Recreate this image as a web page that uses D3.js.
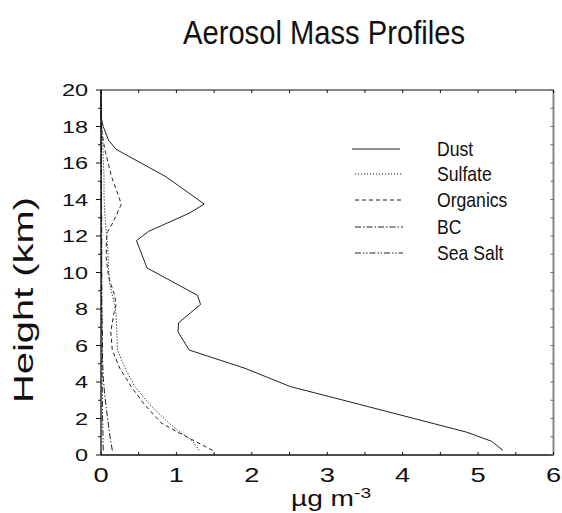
<!DOCTYPE html>
<html><head><meta charset="utf-8">
<script src="https://cdn.jsdelivr.net/npm/d3@7"></script>
<style>body{margin:0;background:#fff}svg{display:block}</style>
</head><body>
<svg id="c" width="562" height="513"></svg>
<script>
const title = "Aerosol Mass Profiles";
const xTicks = [0,1,2,3,4,5,6];
const yTicks = [0,2,4,6,8,10,12,14,16,18,20];
const seriesNames = ["Dust","Sulfate","Organics","BC","Sea Salt"];

const dustH = [0.25,0.75,1.25,2.75,3.75,4.75,5.75,6.75,7.25,8.25,8.75,10.25,11.75,12.25,13.25,13.75,15.25,16.75,17.25,18.0,18.5,20];
const dustV = [5.33,5.18,4.85,3.45,2.51,1.91,1.17,1.02,1.03,1.32,1.28,0.61,0.47,0.63,1.17,1.37,0.86,0.20,0.10,0.03,0.0,0.0];
const sulfateH = [0.25,0.75,1.25,1.75,2.75,3.75,4.75,5.75,6.75,7.75,8.25,9.25,10.25,11.25,12.25,13.25,14.25,15.25,16.25,17.25,18.25,19.5];
const sulfateV = [1.30,1.22,1.05,0.90,0.65,0.45,0.32,0.22,0.21,0.20,0.18,0.12,0.10,0.09,0.07,0.05,0.04,0.04,0.03,0.02,0.01,0.0];
const organicsH = [0.25,0.75,1.25,1.75,2.75,3.75,4.75,5.75,6.75,7.75,8.25,8.75,9.75,10.75,11.75,12.25,12.75,13.75,15.25,16.75,17.75,18.5];
const organicsV = [1.48,1.25,1.02,0.80,0.58,0.40,0.25,0.15,0.13,0.17,0.20,0.18,0.10,0.07,0.07,0.09,0.16,0.27,0.14,0.05,0.01,0.0];
const bcH = [0.25,1.25,2.25,3.25,4.25,5.25,6.25,8.25,12.0,16.0,20.0];
const bcV = [0.15,0.11,0.08,0.05,0.03,0.02,0.02,0.01,0.01,0.005,0.0];
const seaSaltH = [0.25,2.25,4.25,8.25,12.0,16.0,20.0];
const seaSaltV = [0.03,0.02,0.015,0.01,0.005,0.002,0.0];

const dashes = ["none","1.2,1.8","4,3","6,2,1.5,2","6,2,1.5,1.5,1.5,2"];
const seriesH = [dustH,sulfateH,organicsH,bcH,seaSaltH];
const seriesV = [dustV,sulfateV,organicsV,bcV,seaSaltV];

const FONT = "'Liberation Sans',Arial,Helvetica,sans-serif";
const svg = d3.select("#c");
const L=101, R=553.5, T=90, B=455;
const x = d3.scaleLinear().domain([0,6]).range([L,R]);
const y = d3.scaleLinear().domain([0,20]).range([B,T]);

// title
svg.append("text").attr("x",324).attr("y",43.5).attr("text-anchor","middle")
  .attr("font-family",FONT)
  .attr("font-size",34).attr("textLength",282).attr("lengthAdjust","spacingAndGlyphs")
  .attr("fill","#111").text(title);

// data lines
const line = d3.line().x(d=>x(d[1])).y(d=>y(d[0]));
seriesNames.forEach((n,i)=>{
  const pts = seriesH[i].map((h,j)=>[h,seriesV[i][j]]);
  svg.append("path").attr("d",line(pts)).attr("fill","none")
    .attr("stroke","#222").attr("stroke-width",1)
    .attr("stroke-dasharray",dashes[i]==="none"?null:dashes[i]);
});

// axes
const g = svg.append("g");
g.append("line").attr("x1",L).attr("x2",L).attr("y1",T).attr("y2",B).attr("stroke","#111").attr("stroke-width",1.3);
g.append("line").attr("x1",L).attr("x2",R).attr("y1",B).attr("y2",B).attr("stroke","#111").attr("stroke-width",1.3);
g.append("line").attr("x1",L).attr("x2",R).attr("y1",T).attr("y2",T).attr("stroke","#111").attr("stroke-width",1.1);
g.append("line").attr("x1",R).attr("x2",R).attr("y1",T).attr("y2",B).attr("stroke","#888").attr("stroke-width",2);

// left ticks (outward), every 1 km
d3.range(0,21,1).forEach(v=>{
  const len = v%2===0?5:3;
  g.append("line").attr("x1",L-len).attr("x2",L).attr("y1",y(v)).attr("y2",y(v)).attr("stroke","#111");
});
// right ticks inward
d3.range(0,21,1).forEach(v=>{
  g.append("line").attr("x1",R-3).attr("x2",R).attr("y1",y(v)).attr("y2",y(v)).attr("stroke","#666");
});
// bottom & top ticks inward every 0.5
d3.range(0,6.01,0.5).forEach(v=>{
  g.append("line").attr("x1",x(v)).attr("x2",x(v)).attr("y1",B).attr("y2",B-3).attr("stroke","#111");
  g.append("line").attr("x1",x(v)).attr("x2",x(v)).attr("y1",T).attr("y2",T+3).attr("stroke","#111");
});

// tick labels
yTicks.forEach(v=>{
  g.append("text").attr("transform",`translate(88,${y(v)+6}) scale(1.38,1)`)
    .attr("text-anchor","end").attr("font-family",FONT)
    .attr("font-size",17).attr("fill","#111").text(v);
});
xTicks.forEach(v=>{
  g.append("text").attr("transform",`translate(${x(v)},482) scale(1.3,1)`)
    .attr("text-anchor","middle").attr("font-family",FONT)
    .attr("font-size",21).attr("fill","#111").text(v);
});

// axis titles
const xt = svg.append("text").attr("transform","translate(331,506) scale(1.28,1)")
  .attr("text-anchor","middle").attr("font-family",FONT)
  .attr("font-size",22).attr("fill","#111");
xt.append("tspan").text("µg m");
xt.append("tspan").attr("dy",-8).attr("font-size",15).text("-3");

svg.append("text").attr("transform","translate(33,300) rotate(-90)")
  .attr("text-anchor","middle").attr("font-family",FONT)
  .attr("font-size",27).attr("textLength",206).attr("lengthAdjust","spacingAndGlyphs")
  .attr("fill","#111").text("Height (km)");

// legend
const legY = [149,174,200,227,253];
seriesNames.forEach((n,i)=>{
  const x0 = i===0?352:355;
  svg.append("line").attr("x1",x0).attr("x2",x0+48).attr("y1",legY[i]).attr("y2",legY[i])
    .attr("stroke","#222").attr("stroke-width",1)
    .attr("stroke-dasharray",dashes[i]==="none"?null:dashes[i]);
  svg.append("text").attr("transform",`translate(437,${legY[i]+7}) scale(0.88,1)`)
    .attr("font-family",FONT)
    .attr("font-size",20).attr("fill","#111").text(n);
});
</script>
</body></html>
